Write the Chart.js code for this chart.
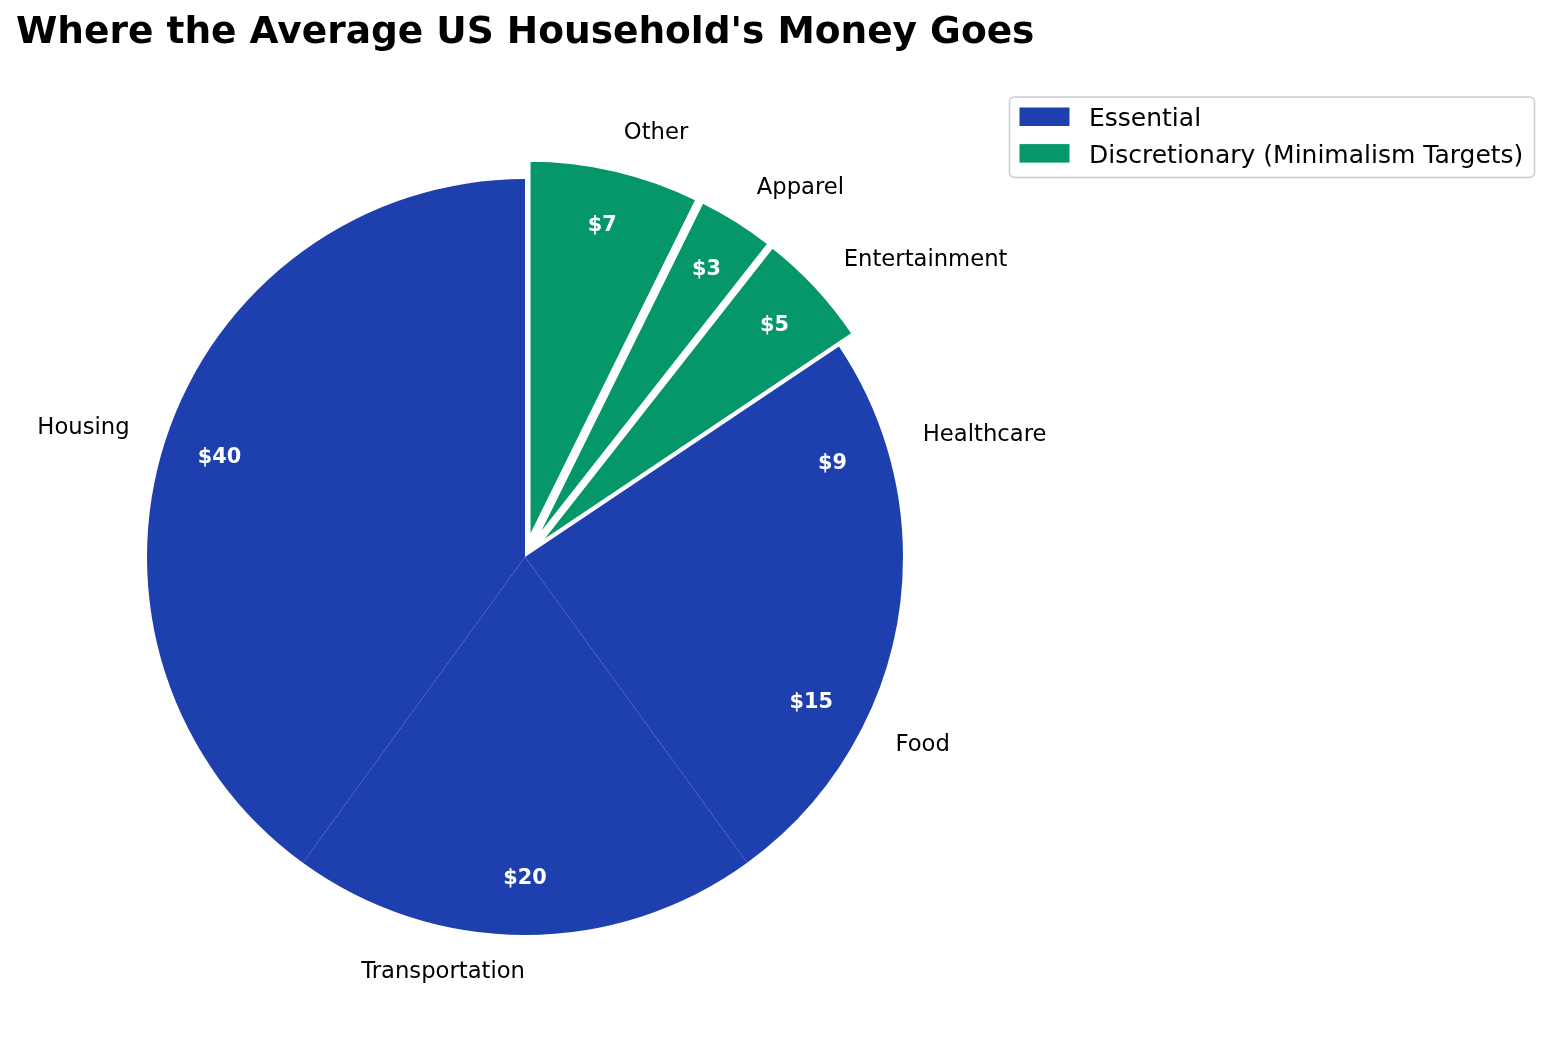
<!DOCTYPE html>
<html>
<head>
<meta charset="utf-8">
<title>Where the Average US Household's Money Goes</title>
<script src="https://cdn.jsdelivr.net/npm/chart.js@4.4.1/dist/chart.umd.min.js"></script>
<style>
  html, body { margin: 0; padding: 0; background: #fff; overflow: hidden; }
  #wrap { width: 1550px; height: 1045px; }
</style>
</head>
<body>
<div id="wrap"><canvas id="budgetChart" width="1550" height="1045"></canvas></div>
<script>
// slices listed clockwise from 12 o'clock
const categories = ['Other', 'Apparel', 'Entertainment', 'Healthcare', 'Food', 'Transportation', 'Housing'];
const amounts = [7.3, 3.3, 5.0, 9.4, 15, 20, 40];
const groups = ['Discretionary', 'Discretionary', 'Discretionary', 'Essential', 'Essential', 'Essential', 'Essential'];
const legendGroups = ['Essential', 'Discretionary'];
const legendLabels = ['Essential', 'Discretionary (Minimalism Targets)'];

const groupColors = { Essential: '#1e40af', Discretionary: '#059669' };
const FONT = "'DejaVu Sans', 'Noto Sans', sans-serif";
const EXPLODE = 0.05;   // fraction of radius, pulled-out slices

// push discretionary slices away from the centre (like an exploded pie)
const explodePlugin = {
  id: 'explode',
  afterDatasetUpdate(chart, args) {
    args.meta.data.forEach((arc, i) => {
      if (groups[i] !== 'Discretionary') return;
      const mid = (arc.startAngle + arc.endAngle) / 2;
      const d = EXPLODE * arc.outerRadius;
      arc.x += Math.cos(mid) * d;
      arc.y += Math.sin(mid) * d;
    });
  }
};

// category names outside, dollar values inside
const sliceLabels = {
  id: 'sliceLabels',
  afterDatasetsDraw(chart) {
    const ctx = chart.ctx;
    ctx.save();
    chart.getDatasetMeta(0).data.forEach((arc, i) => {
      const mid = (arc.startAngle + arc.endAngle) / 2;
      const c = Math.cos(mid), s = Math.sin(mid);
      const r = arc.outerRadius;

      ctx.font = `22.7px ${FONT}`;
      ctx.fillStyle = '#000';
      ctx.textBaseline = 'alphabetic';
      ctx.textAlign = c > 1e-9 ? 'left' : 'right';
      ctx.fillText(categories[i], arc.x + c * 1.1 * r, arc.y + s * 1.1 * r + 0.22 * 22.7);

      ctx.font = `bold 20.8px ${FONT}`;
      ctx.fillStyle = '#fff';
      ctx.textAlign = 'center';
      ctx.fillText('$' + Math.round(amounts[i]), arc.x + c * 0.85 * r, arc.y + s * 0.85 * r + 0.27 * 20.8);
    });
    ctx.restore();
  }
};

// title top-left and framed legend top-right
const decorations = {
  id: 'decorations',
  afterDraw(chart) {
    const ctx = chart.ctx;
    ctx.save();
    ctx.font = `bold 37.5px ${FONT}`;
    ctx.fillStyle = '#000';
    ctx.textAlign = 'left';
    ctx.textBaseline = 'alphabetic';
    ctx.fillText("Where the Average US Household's Money Goes", 16, 43);

    // legend frame
    ctx.beginPath();
    ctx.roundRect(1009.5, 97, 525, 80.5, 5);
    ctx.fillStyle = 'rgba(255,255,255,0.8)';
    ctx.fill();
    ctx.lineWidth = 1.5;
    ctx.strokeStyle = '#cccccc';
    ctx.stroke();

    legendGroups.forEach((g, k) => {
      const y = 107.5 + k * 36.6;
      ctx.fillStyle = groupColors[g];
      ctx.fillRect(1019.5, y, 50, 18.5);
      ctx.font = `25px ${FONT}`;
      ctx.fillStyle = '#000';
      ctx.fillText(legendLabels[k], 1089, 126 + k * 36.6);
    });
    ctx.restore();
  }
};

new Chart(document.getElementById('budgetChart'), {
  type: 'pie',
  data: {
    labels: categories,
    datasets: [{
      data: amounts,
      backgroundColor: groups.map(g => groupColors[g]),
      borderColor: '#ffffff',
      borderWidth: groups.map(g => g === 'Discretionary' ? 2.5 : 0),
      borderJoinStyle: 'miter',
      clip: false
    }]
  },
  options: {
    responsive: false,
    animation: false,
    radius: 378,
    layout: { padding: { left: 15, right: 515, top: 69, bottom: 0 } },
    plugins: {
      legend: { display: false },
      title: { display: false },
      tooltip: { enabled: false }
    }
  },
  plugins: [explodePlugin, sliceLabels, decorations]
});
</script>
</body>
</html>
